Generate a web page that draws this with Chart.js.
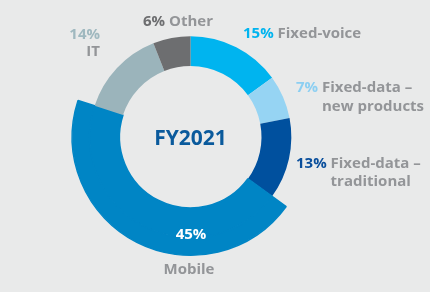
<!DOCTYPE html>
<html>
<head>
<meta charset="utf-8">
<script src="https://cdn.jsdelivr.net/npm/chart.js@4"></script>
<style>
html,body{margin:0;padding:0;background:#e9eaea;}
#wrap{position:relative;width:430px;height:292px;}
canvas{display:block;}
</style>
</head>
<body>
<div id="wrap"><canvas id="c" width="430" height="292"></canvas></div>
<script>
// ---- data ----
const categories = ["Fixed-voice", "Fixed-data –\nnew products", "Fixed-data –\ntraditional", "Mobile", "IT", "Other"];
const shares = [15, 7, 13, 45, 14, 6];
const pctLabels = ["15%", "7%", "13%", "45%", "14%", "6%"];
const centerTitle = "FY2021";
const highlighted = "Mobile";

// ---- styles ----
const segColors = ["#00b4ef", "#96d4f3", "#00509e", "#0085c5", "#9bb4bb", "#6d6e70"];
const pctColors = ["#00b4ef", "#8ccff2", "#0a4f9c", "#ffffff", "#9fb8bf", "#6d6e70"];
const nameColor = "#939598";
const FONT = "'Open Sans', 'Noto Sans', sans-serif";

const hiIndex = categories.indexOf(highlighted);
const outerColors = segColors.map((c, i) => i === hiIndex ? c : "rgba(0,0,0,0)");
const hiBorder = shares.map((v, i) => i === hiIndex ? 1.5 : 0);

// label layout
const labelLayout = [
  {x: 243, y: 34, mode: "inline"},
  {x: 296, y: 88, mode: "inline", lh: 19},
  {x: 296, y: 164, mode: "inline", lh: 18},
  {x: 191, y: 235, mode: "center", lh: 35},
  {x: 100, y: 35, mode: "right", lh: 17},
  {x: 143, y: 22, mode: "inline"}
];

const labelPlugin = {
  id: "labels",
  afterDraw(chart) {
    const ctx = chart.ctx;
    const meta = chart.getDatasetMeta(1);
    const arc0 = meta.data[0];
    const cx = arc0.x, cy = arc0.y;
    ctx.save();
    ctx.textBaseline = "middle";
    ctx.font = "700 21px " + FONT;
    ctx.fillStyle = "#0a5a9c";
    ctx.textAlign = "center";
    ctx.fillText(centerTitle, cx, cy + 2);
    ctx.font = "700 15px " + FONT;
    categories.forEach((cat, i) => {
      const L = labelLayout[i];
      const lines = cat.split("\n");
      const pct = pctLabels[i];
      if (L.mode === "inline") {
        ctx.textAlign = "left";
        ctx.fillStyle = pctColors[i];
        ctx.fillText(pct, L.x, L.y);
        const nx = L.x + ctx.measureText(pct + " ").width;
        ctx.fillStyle = nameColor;
        lines.forEach((ln, k) => ctx.fillText(ln, nx, L.y + k * (L.lh || 18)));
      } else if (L.mode === "right") {
        ctx.textAlign = "right";
        ctx.fillStyle = pctColors[i];
        ctx.fillText(pct, L.x, L.y);
        ctx.fillStyle = nameColor;
        lines.forEach((ln, k) => ctx.fillText(ln, L.x, L.y + (k + 1) * L.lh));
      } else {
        ctx.textAlign = "center";
        ctx.fillStyle = pctColors[i];
        ctx.fillText(pct, L.x, L.y);
        ctx.fillStyle = nameColor;
        lines.forEach((ln, k) => ctx.fillText(ln, L.x - 2, L.y + (k + 1) * L.lh));
      }
    });
    ctx.restore();
  }
};

new Chart(document.getElementById("c"), {
  type: "doughnut",
  data: {
    labels: categories,
    datasets: [
      {
        data: shares,
        backgroundColor: outerColors,
        borderColor: outerColors,
        borderWidth: hiBorder,
        weight: 17.5
      },
      {
        data: shares,
        backgroundColor: segColors,
        borderColor: segColors,
        borderWidth: hiBorder,
        weight: 30
      }
    ]
  },
  options: {
    responsive: false,
    animation: false,
    cutout: 71,
    layout: {padding: {left: 71, right: 120, top: 18, bottom: 36}},
    plugins: {legend: {display: false}, tooltip: {enabled: false}}
  },
  plugins: [labelPlugin]
});
</script>
</body>
</html>
